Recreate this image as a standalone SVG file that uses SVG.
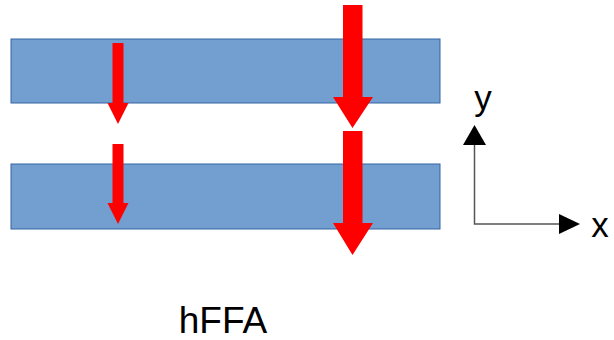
<svg xmlns="http://www.w3.org/2000/svg" width="614" height="340" viewBox="0 0 614 340">
<style>
.bar{fill:#729fcf;stroke:#3465a4;stroke-width:1}
.force{fill:#ff0000}
.axis{stroke:#555;stroke-width:1.5;fill:none}
.ah{fill:#000}
text{font-family:"Liberation Sans",Arial,sans-serif;fill:#000}
</style>
<g id="bar-top"><rect class="bar" x="11" y="39" width="429" height="64"/></g>
<g id="bar-bottom"><rect class="bar" x="11" y="164" width="429" height="65"/></g>
<g id="connectors">
<polygon class="force" points="112.5,43 123.5,43 123.5,103 128.5,103 118,124 107.5,103 112.5,103"/>
<polygon class="force" points="112.5,144 123.5,144 123.5,203 128.5,203 118,224 107.5,203 112.5,203"/>
<polygon class="force" points="343,5 362.5,5 362.5,97 373,97 352.5,128 333,97 343,97"/>
<polygon class="force" points="343,131 362.5,131 362.5,223 373,223 352.5,255 333,223 343,223"/>
<polyline class="axis" points="474.5,144 474.5,224 560,224"/>
<polygon class="ah" points="474.5,125 486,145 463,145"/>
<polygon class="ah" points="580,224 559,214 559,234"/>
</g>
<g id="labels">
<text x="483" y="110" font-size="35" text-anchor="middle">y</text>
<text x="600" y="237" font-size="35" text-anchor="middle">x</text>
<text x="223" y="333" font-size="37" text-anchor="middle">hFFA</text>
</g>
</svg>
